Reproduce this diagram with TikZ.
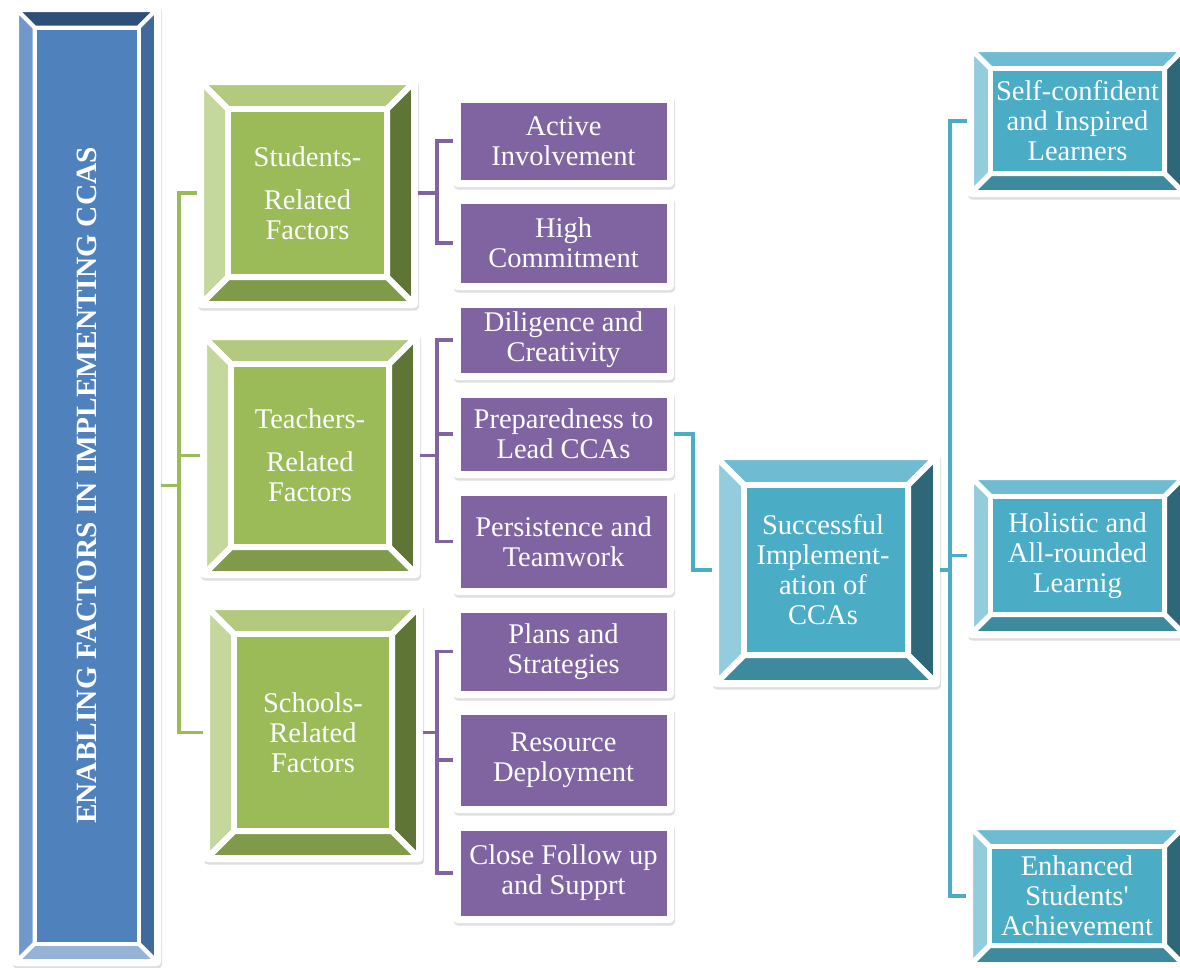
\documentclass[tikz,border=0pt]{standalone}
\usepackage{fontspec}
\setmainfont{Liberation Serif}
\usetikzlibrary{shadows,calc}
\definecolor{bF}{HTML}{4F81BD}\definecolor{bT}{HTML}{2E5077}\definecolor{bL}{HTML}{7098CA}\definecolor{bR}{HTML}{416A9C}\definecolor{bB}{HTML}{95B3D7}
\definecolor{gF}{HTML}{9BBB59}\definecolor{gT}{HTML}{B2C97E}\definecolor{gL}{HTML}{C4D79D}\definecolor{gR}{HTML}{5F7536}\definecolor{gB}{HTML}{7F9A48}
\definecolor{tF}{HTML}{4BACC6}\definecolor{tT}{HTML}{6FBCD2}\definecolor{tL}{HTML}{93CDDD}\definecolor{tR}{HTML}{2E6878}\definecolor{tB}{HTML}{3D8A9E}
\definecolor{pF}{HTML}{8064A2}
\newcommand\bevel[5]{%
  \path let \p1=(#1.north west), \p2=(#1.south east),
    \n1={\x1+#3}, \n2={\x2-#3}, \n3={\y1-#3}, \n4={\y2+#3},
    \n5={\x1+#3+#4}, \n6={\x2-#3-#4}, \n7={\y1-#3-#4}, \n8={\y2+#3+#4} in
    (\n1,\n3) coordinate (bo1) (\n2,\n3) coordinate (bo2) (\n2,\n4) coordinate (bo3) (\n1,\n4) coordinate (bo4)
    (\n5,\n7) coordinate (bi1) (\n6,\n7) coordinate (bi2) (\n6,\n8) coordinate (bi3) (\n5,\n8) coordinate (bi4);
  \begin{scope}[line width=#5, line join=round]
    \filldraw[fill=#2T, draw=white] (bo1) -- (bo2) -- (bi2) -- (bi1) -- cycle;
    \filldraw[fill=#2R, draw=white] (bo2) -- (bo3) -- (bi3) -- (bi2) -- cycle;
    \filldraw[fill=#2B, draw=white] (bo3) -- (bo4) -- (bi4) -- (bi3) -- cycle;
    \filldraw[fill=#2L, draw=white] (bo4) -- (bo1) -- (bi1) -- (bi4) -- cycle;
    \filldraw[fill=#2F, draw=white] (bi1) rectangle (bi3);
  \end{scope}}
\tikzset{
  wbox/.style={fill=white, rounded corners=4pt, inner sep=0pt, outer sep=0pt,
    drop shadow={shadow xshift=1pt, shadow yshift=-2.5pt, opacity=0.25}},
  txt/.style={text=white, align=center, inner sep=0pt, font=\fontsize{28.5}{30}\selectfont},
  pface/.style={txt, fill=pF, minimum width=206pt},
  gline/.style={draw=gF, line width=3.5pt},
  pline/.style={draw=pF, line width=3.5pt},
  tline/.style={draw=tF, line width=3.5pt}
}
\newcommand\pbox[4]{%
  \node[wbox, minimum width=221pt, minimum height=#3] (#1) at (563.5,#2) {};
  \node[pface, minimum height={#3-15}] (#1t) at (#1.center) {#4};}
\newcommand\squote{{\addfontfeatures{Ligatures=TeXOff}'}}
\begin{document}
\begin{tikzpicture}[x=1pt,y=-1pt]
\useasboundingbox (0,0) rectangle (1180,967);
\clip (0,0) rectangle (1180,967);
\fill[white] (0,0) rectangle (1180,967);
% title
\node[wbox, minimum width=149pt, minimum height=961pt] (title) at (86.5,485.5) {};
\bevel{title}{b}{5pt}{17.5pt}{4pt}
\node[txt, rotate=90, font=\bfseries\fontsize{29.4}{30}\selectfont] (titletext) at (title.center) {ENABLING FACTORS IN IMPLEMENTING CCAS};
% green boxes
\node[wbox, minimum width=221pt, minimum height=230pt] (s1) at (307.5,193) {};
\bevel{s1}{g}{4pt}{27pt}{6pt}
\node[txt] (s1t) at (s1.center) {Students-\\[13pt]Related\\Factors};
\node[wbox, minimum width=220pt, minimum height=245pt] (s2) at (310,455.5) {};
\bevel{s2}{g}{4pt}{27pt}{6pt}
\node[txt] (s2t) at (s2.center) {Teachers-\\[13pt]Related\\Factors};
\node[wbox, minimum width=220pt, minimum height=259pt] (s3) at (313,732.5) {};
\bevel{s3}{g}{4pt}{27pt}{6pt}
\node[txt] (s3t) at (s3.center) {Schools-\\Related\\Factors};
% purple boxes
\pbox{p1}{141}{92}{Active\\Involvement}
\pbox{p2}{243}{94}{High\\Commitment}
\pbox{p3}{340}{80}{Diligence and\\Creativity}
\pbox{p4}{434}{88}{Preparedness to\\Lead CCAs}
\pbox{p5}{541.5}{107}{Persistence and\\Teamwork}
\pbox{p6}{651.5}{93}{Plans and\\Strategies}
\pbox{p7}{760}{106}{Resource\\Deployment}
\pbox{p8}{873}{100}{Close Follow up\\and Supprt}
% central box
\node[wbox, minimum width=228pt, minimum height=234pt] (c) at (826,570) {};
\bevel{c}{t}{4pt}{28pt}{6pt}
\node[txt, xshift=-3pt] (ct) at (c.center) {Successful\\Implement-\\ation of\\CCAs};
% right boxes
\node[wbox, minimum width=221pt, minimum height=152pt] (rA) at (1077.5,121) {};
\bevel{rA}{t}{4.5pt}{19pt}{5pt}
\node[txt] (rAt) at (rA.center) {Self-confident\\and Inspired\\Learners};
\node[wbox, minimum width=221pt, minimum height=165pt] (rB) at (1077.5,555.5) {};
\bevel{rB}{t}{4.5pt}{19pt}{5pt}
\node[txt] (rBt) at (rB.center) {Holistic and\\All-rounded\\Learnig};
\node[wbox, minimum width=222pt, minimum height=146pt] (rC) at (1077,896) {};
\bevel{rC}{t}{4.5pt}{19pt}{5pt}
\node[txt] (rCt) at (rC.center) {Enhanced\\Students\squote\\Achievement};
% green connectors
\coordinate (gj) at (179,485.5);
\draw[gline] (title.east) -- (gj);
\draw[gline] (gj) |- (s1.west);
\draw[gline] (gj) |- (s2.west);
\draw[gline] (gj) |- (s3.west);
% purple connectors
\coordinate (pjx) at (437,0);
\draw[pline] (s1.east) -- (s1.east -| pjx) |- (p1.west);
\draw[pline] (s1.east -| pjx) |- (p2.west);
\draw[pline] (s2.east) -- (s2.east -| pjx) |- (p3.west);
\draw[pline] (s2.east -| pjx) |- (p4.west);
\draw[pline] (s2.east -| pjx) |- (p5.west);
\draw[pline] (s3.east) -- (s3.east -| pjx) |- (p6.west);
\draw[pline] (s3.east -| pjx) |- (p7.west);
\draw[pline] (s3.east -| pjx) |- (p8.west);
% teal connectors
\coordinate (tjx) at (693,0);
\draw[tline] (p4.east) -- (p4.east -| tjx) |- (c.west);
\coordinate (rjx) at (950,0);
\draw[tline] (c.east) -- (c.east -| rjx);
\draw[tline] (c.east -| rjx) |- (rA.west);
\draw[tline] (c.east -| rjx) |- (rB.west);
\draw[tline] (c.east -| rjx) |- (rC.west);
\end{tikzpicture}
\end{document}
